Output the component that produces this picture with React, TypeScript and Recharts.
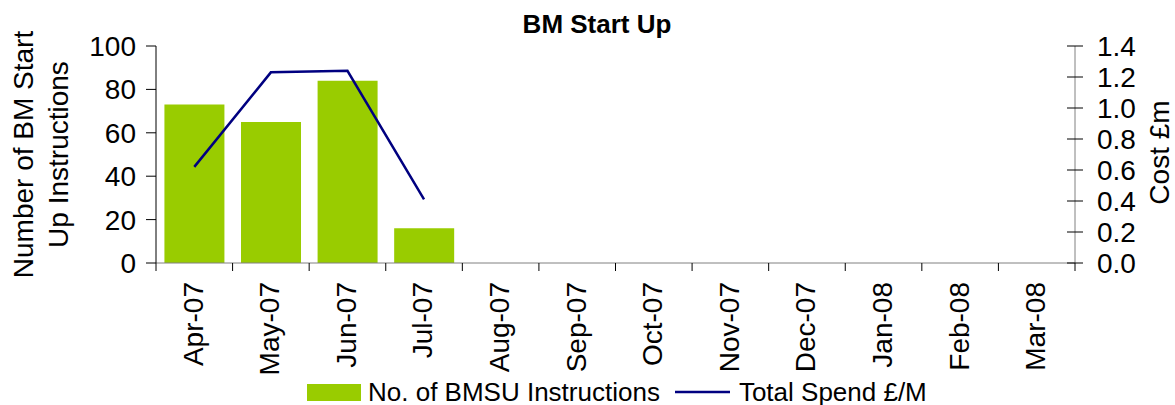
import React from 'react';
import { ComposedChart, Bar, Line, XAxis, YAxis, Legend } from 'recharts';

const months = ['Apr-07', 'May-07', 'Jun-07', 'Jul-07', 'Aug-07', 'Sep-07', 'Oct-07', 'Nov-07', 'Dec-07', 'Jan-08', 'Feb-08', 'Mar-08'];
const instructions: (number | null)[] = [73, 65, 84, 16, null, null, null, null, null, null, null, null];
const spend: (number | null)[] = [0.62, 1.23, 1.24, 0.41, null, null, null, null, null, null, null, null];
const leftTicks = [0, 20, 40, 60, 80, 100];
const rightTicks = [0, 0.2, 0.4, 0.6, 0.8, 1.0, 1.2, 1.4];

const data = months.map((m, i) => ({ month: m, instructions: instructions[i], spend: spend[i] }));

const FONT = '"Liberation Sans", Arial, Helvetica, sans-serif';
const CHART_W = 1175;
const CHART_H = 405;
const LEFT_W = 156;
const RIGHT_W = 100;
const PLOT_W = CHART_W - LEFT_W - RIGHT_W;
const BAND = PLOT_W / months.length;
const GREEN = '#99CC00';
const NAVY = '#000080';

const XTick = (props: any) => {
  const { x, y, payload, index } = props;
  const last = index === months.length - 1;
  return (
    <g>
      <line x1={x - BAND / 2} y1={y} x2={x - BAND / 2} y2={y + 8} stroke="#000" strokeWidth={1} />
      {last && <line x1={x + BAND / 2} y1={y} x2={x + BAND / 2} y2={y + 8} stroke="#000" strokeWidth={1} />}
      <text
        x={x}
        y={y + 19}
        transform={`rotate(-90, ${x}, ${y + 19})`}
        textAnchor="end"
        dy="0.3em"
        fontSize={28}
        fontFamily={FONT}
        fill="#000"
      >
        {payload.value}
      </text>
    </g>
  );
};

const RightTick = (props: any) => {
  const { x, y, payload } = props;
  return (
    <g>
      <line x1={x - 8} y1={y} x2={x + 8} y2={y} stroke="#000" strokeWidth={1} />
      <text x={x + 22} y={y} dy="0.36em" textAnchor="start" fontSize={28} fontFamily={FONT} fill="#000">
        {Number(payload.value).toFixed(1)}
      </text>
    </g>
  );
};

const LeftLabel = (props: any) => {
  const vb = props.viewBox || { x: 0, y: 46, width: LEFT_W, height: 217 };
  const cy = vb.y + vb.height / 2;
  const x1 = vb.x + 33;
  const x2 = vb.x + 68;
  return (
    <g>
      <text x={x1} y={cy} transform={`rotate(-90, ${x1}, ${cy})`} textAnchor="middle" fontSize={28} fontFamily={FONT} fill="#000">
        Number of BM Start
      </text>
      <text x={x2} y={cy} transform={`rotate(-90, ${x2}, ${cy})`} textAnchor="middle" fontSize={28} fontFamily={FONT} fill="#000">
        Up Instructions
      </text>
    </g>
  );
};

const RightLabel = (props: any) => {
  const vb = props.viewBox || { x: LEFT_W + PLOT_W, y: 46, width: RIGHT_W, height: 217 };
  const cy = vb.y + vb.height / 2 - 2;
  const x = vb.x + 94;
  return (
    <text x={x} y={cy} transform={`rotate(-90, ${x}, ${cy})`} textAnchor="middle" fontSize={28} fontFamily={FONT} fill="#000">
      Cost £m
    </text>
  );
};

const LegendContent = () => (
  <div
    style={{
      display: 'flex',
      alignItems: 'center',
      height: 28,
      paddingLeft: 307,
      fontSize: 26,
      lineHeight: '28px',
      fontFamily: FONT,
      color: '#000',
      whiteSpace: 'nowrap',
    }}
  >
    <span style={{ display: 'inline-block', width: 54, height: 17, background: GREEN, marginRight: 7 }} />
    <span>No. of BMSU Instructions</span>
    <svg width={55} height={6} style={{ marginLeft: 15, marginRight: 9 }}>
      <line x1={0} y1={3} x2={55} y2={3} stroke={NAVY} strokeWidth={2.5} />
    </svg>
    <span>Total Spend £/M</span>
  </div>
);

export default function App() {
  return (
    <div style={{ position: 'absolute', left: 0, top: 0, width: CHART_W, height: CHART_H, background: '#fff' }}>
      <div
        style={{
          position: 'absolute',
          left: 597,
          top: 11,
          transform: 'translateX(-50%)',
          fontFamily: FONT,
          fontWeight: 'bold',
          fontSize: 26,
          lineHeight: '26px',
          whiteSpace: 'nowrap',
          color: '#000',
        }}
      >
        BM Start Up
      </div>
      <ComposedChart
        width={CHART_W}
        height={CHART_H}
        data={data}
        margin={{ top: 46, right: 0, bottom: 0, left: 0 }}
        barCategoryGap="11%"
      >
        <XAxis
          dataKey="month"
          xAxisId="x"
          interval={0}
          height={142}
          tickSize={0}
          tickMargin={0}
          tickLine={false}
          axisLine={{ stroke: '#808080', strokeWidth: 1 }}
          tick={<XTick />}
        />
        <YAxis
          yAxisId="left"
          orientation="left"
          width={LEFT_W}
          domain={[0, 100]}
          ticks={leftTicks}
          interval={0}
          tickSize={10}
          tickMargin={10}
          tickLine={{ stroke: '#000' }}
          axisLine={{ stroke: '#000', strokeWidth: 1 }}
          tick={{ fontSize: 28, fontFamily: FONT, fill: '#000' }}
          label={{ content: (p: any) => <LeftLabel {...p} /> }}
        />
        <YAxis
          yAxisId="right"
          orientation="right"
          width={RIGHT_W}
          domain={[0, 1.4]}
          ticks={rightTicks}
          interval={0}
          tickSize={0}
          tickMargin={0}
          tickLine={false}
          axisLine={{ stroke: '#808080', strokeWidth: 1 }}
          tick={<RightTick />}
          label={{ content: (p: any) => <RightLabel {...p} /> }}
        />
        <Legend
          verticalAlign="middle"
          align="center"
          layout="horizontal"
          wrapperStyle={{ top: 378, left: 0, width: CHART_W }}
          content={() => <LegendContent />}
        />
        <Bar
          dataKey="instructions"
          name="No. of BMSU Instructions"
          xAxisId="x"
          yAxisId="left"
          fill={GREEN}
          isAnimationActive={false}
        />
        <Line
          dataKey="spend"
          name="Total Spend £/M"
          xAxisId="x"
          yAxisId="right"
          type="linear"
          stroke={NAVY}
          strokeWidth={2.5}
          dot={false}
          activeDot={false}
          isAnimationActive={false}
        />
      </ComposedChart>
    </div>
  );
}
